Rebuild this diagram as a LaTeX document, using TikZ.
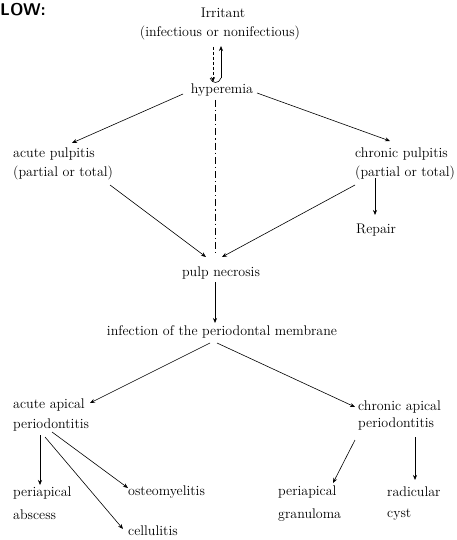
\documentclass[tikz,border=0pt]{standalone}
\usetikzlibrary{arrows.meta,calc}
\begin{document}
\begin{tikzpicture}[x=1pt,y=-1pt,
  lbl/.style={inner sep=0pt, font=\fontsize{14}{16}\selectfont},
  lw/.style={lbl, anchor=west},
  ln/.style={line width=0.6pt, draw=black},
  arr/.style={ln, -{Stealth[length=5pt,width=4pt]}},
  dd/.style={ln, dash pattern=on 7pt off 3pt on 1.2pt off 3pt}]
\useasboundingbox (0,0) rectangle (456,540);
% title (cut off)
\node[lw] (ttl) at (0,10) {\fontsize{17}{17}\selectfont\sffamily\bfseries LOW:};
% nodes
\node[lbl] (irr) at (223,13) {Irritant};
\node[lbl] (inf) at (220,33) {(infectious or nonifectious)};
\node[lbl] (hyp) at (222,90) {hyperemia};
\node[lw] (ap1) at (13,154) {acute pulpitis};
\node[lw] (ap2) at (13,173) {(partial or total)};
\node[lw] (cp1) at (355,154) {chronic pulpitis};
\node[lw] (cp2) at (355,173) {(partial or total)};
\node[lw] (rep) at (356,230) {Repair};
\node[lbl] (pn) at (221,273) {pulp necrosis};
\node[lbl] (ipm) at (222,332) {infection of the periodontal membrane};
\node[lw] (aa1) at (13,405) {acute apical};
\node[lw] (aa2) at (13,425) {periodontitis};
\node[lw] (ca1) at (358,407) {chronic apical};
\node[lw] (ca2) at (358,424) {periodontitis};
\node[lw] (pa1) at (13,493) {periapical};
\node[lw] (pa2) at (13,515) {abscess};
\node[lw] (ost) at (128,492) {osteomyelitis};
\node[lw] (cel) at (128,531) {cellulitis};
\node[lw] (pg1) at (278,492) {periapical};
\node[lw] (pg2) at (278,515) {granuloma};
\node[lw] (rc1) at (387,492) {radicular};
\node[lw] (rc2) at (387,515) {cyst};
% double arrow irritant <-> hyperemia
\draw[arr, densely dashed] ($(inf.center)+(-7,14)$) -- ($(hyp.center)+(-9,-8)$);
\draw[arr] ($(hyp.center)+(-1,-12)$) -- ($(inf.center)+(1,13)$);
\draw[ln] ($(hyp.center)+(-12,-12)$) .. controls ($(hyp.center)+(-10,-6)$) and ($(hyp.center)+(-3,-6)$) .. ($(hyp.center)+(-1,-12)$);
% hyperemia branches
\draw[arr] ($(hyp.center)+(-39,4)$) -- ($(ap1.west)+(59,-11)$);
\draw[arr] ($(hyp.center)+(35,3)$) -- ($(cp1.west)+(35,-13)$);
\draw[dd] ($(hyp.center)+(-7,10)$) -- ($(pn.center)+(-6,-18)$);
\draw[arr] ($(cp2.west)+(20,5)$) -- ($(rep.west)+(19,-15)$);
% to pulp necrosis
\draw[arr] ($(ap2.west)+(97,12)$) -- ($(pn.center)+(-15,-16)$);
\draw[arr] ($(cp2.west)+(0,12)$) -- ($(pn.center)+(1,-16)$);
\draw[arr] ($(pn.center)+(-6,9)$) -- ($(ipm.center)+(-7,-9)$);
% periodontal branches
\draw[arr] ($(ipm.center)+(-12,11)$) -- ($(aa1.west)+(77,-2)$);
\draw[arr] ($(ipm.center)+(-5,11)$) -- ($(ca1.west)+(-3,0)$);
% acute apical branches
\draw[arr] ($(aa2.west)+(27,10)$) -- ($(pa1.west)+(27,-8)$);
\draw[arr] ($(aa2.west)+(32,12)$) -- ($(cel.west)+(-5,-2)$);
\draw[arr] ($(aa2.west)+(39,7)$) -- ($(ost.west)+(0,-4)$);
% chronic apical branches
\draw[arr] ($(ca2.west)+(-3,16)$) -- ($(pg1.west)+(55,-9)$);
\draw[arr] ($(ca2.west)+(57,13)$) -- ($(rc1.west)+(28,-12)$);
\end{tikzpicture}
\end{document}
